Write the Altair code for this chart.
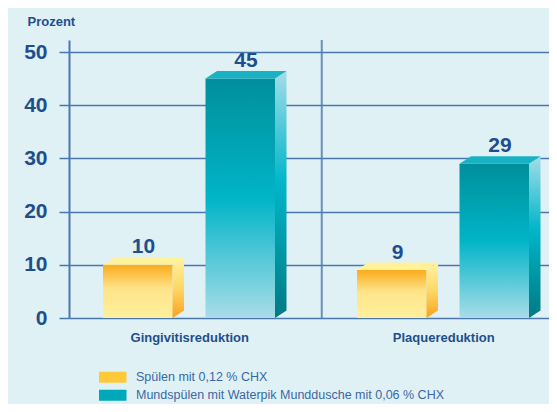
import altair as alt
import pandas as pd

# ---- data ----
categories = ["Gingivitisreduktion", "Plaquereduktion"]
series = ["Spülen mit 0,12 % CHX", "Mundspülen mit Waterpik Munddusche mit 0,06 % CHX"]
values_chx = [10, 9]
values_waterpik = [45, 29]
y_ticks = [0, 10, 20, 30, 40, 50]

# ---- layout constants ----
W, H = 480, 278
Y_MAX = 52.26
GROUP_START, GROUP_STEP, SERIES_STEP, BAR_W = 34, 254, 102.5, 69.5
DEPTH = 11.5
DY = 7.5 / (H / Y_MAX)
CAT_SHIFT = -5

BG = "#e0f1f6"
GRID = "#4a78ae"
TXT = "#1e4f8c"
FONT = "Liberation Sans Narrow, Liberation Sans, Arial"
LEG_COLORS = ["#fdc93a", "#00a9b9"]

front, side, top, labels = [], [], [], []
for i, cat in enumerate(categories):
    for j, vals in enumerate([values_chx, values_waterpik]):
        v = vals[i]
        L = GROUP_START + i * GROUP_STEP + j * SERIES_STEP
        R = L + BAR_W
        bid = f"{i}-{j}"
        front.append(dict(s=j, bid=bid, x0=L, x1=R, lo=0, hi=v))
        side += [dict(s=j, bid=bid, x=R, lo=0, hi=v),
                 dict(s=j, bid=bid, x=R + DEPTH, lo=DY, hi=v + DY)]
        top += [dict(s=j, bid=bid, x=L, lo=v, hi=v),
                dict(s=j, bid=bid, x=L + DEPTH, lo=v, hi=v + DY),
                dict(s=j, bid=bid, x=R, lo=v, hi=v + DY),
                dict(s=j, bid=bid, x=R + DEPTH, lo=v + DY, hi=v + DY)]
        labels.append(dict(s=j, x=(L + R) / 2 + DEPTH / 2, y=v + DY, t=str(v)))

front = pd.DataFrame(front)
side = pd.DataFrame(side)
top = pd.DataFrame(top)
labels = pd.DataFrame(labels)
cat_df = pd.DataFrame(dict(
    cat=categories,
    x=[GROUP_START + i * GROUP_STEP + (SERIES_STEP + BAR_W + DEPTH) / 2 + CAT_SHIFT
       for i in range(len(categories))]))
sep_df = pd.DataFrame(dict(x=[GROUP_START + GROUP_STEP - (GROUP_STEP - SERIES_STEP - BAR_W - DEPTH) / 2]))
leg_df = pd.DataFrame(dict(series=series, x=[0, 0], y=[0, 0]))

xs = alt.Scale(domain=[0, W])
ys = alt.Scale(domain=[0, Y_MAX])


def grad(stops):
    return alt.Gradient(gradient="linear", x1=0, x2=0, y1=0, y2=1,
                        stops=[alt.GradientStop(offset=o, color=c) for o, c in stops])


front_grad = [grad([(0, "#fbab1c"), (0.45, "#fde48a"), (1, "#fff09c")]),
              grad([(0, "#008f9c"), (0.5, "#00b5c7"), (1, "#a9dce8")])]
side_grad = [grad([(0, "#fff2a2"), (0.5, "#fdd866"), (1, "#f9a31c")]),
             grad([(0, "#a3dde8"), (0.45, "#00b6c9"), (1, "#007a84")])]
top_col = ["#fff29b", "#19b2c2"]

layers = []

# y axis with grid + legend carrier
axis_layer = alt.Chart(leg_df).mark_point(filled=True, size=0).encode(
    x=alt.X("x:Q", scale=xs, axis=None),
    y=alt.Y("y:Q", scale=ys, axis=alt.Axis(
        values=y_ticks, grid=True, gridColor=GRID, gridWidth=1.5, gridOpacity=1,
        domainColor=GRID, domainWidth=2, tickColor=GRID, tickSize=10, tickWidth=1.5,
        labelFont=FONT, labelFontSize=21, labelFontWeight="bold", labelColor=TXT,
        labelPadding=12, title="Prozent", titleAngle=0, titleAlign="left",
        titleBaseline="alphabetic", titleX=-42, titleY=-15, titleFont=FONT,
        titleFontSize=13, titleFontWeight="bold", titleColor=TXT)),
    color=alt.Color("series:N", scale=alt.Scale(domain=series, range=LEG_COLORS),
                    legend=alt.Legend(title=None, orient="none", legendX=37.5, legendY=331,
                                      symbolType="M-2.5,-1H2.5V1H-2.5Z", symbolSize=121,
                                      symbolOpacity=1, symbolStrokeWidth=0, labelOffset=17,
                                      rowPadding=5, padding=0, labelFont=FONT,
                                      labelFontSize=12.5, labelColor="#3a68a3",
                                      labelLimit=400)),
)
layers.append(axis_layer)

sep = alt.Chart(sep_df).mark_rule(color=GRID, strokeWidth=2, opacity=0.8).encode(
    x=alt.X("x:Q", scale=xs), y=alt.value(0), y2=alt.value(H))
layers.append(sep)

for j in range(2):
    layers.append(alt.Chart(front[front.s == j]).mark_bar(fill=front_grad[j]).encode(
        x=alt.X("x0:Q", scale=xs), x2="x1", y=alt.Y("lo:Q", scale=ys), y2="hi"))
    layers.append(alt.Chart(side[side.s == j]).mark_area(fill=side_grad[j]).encode(
        x=alt.X("x:Q", scale=xs), y=alt.Y("lo:Q", scale=ys), y2="hi", detail="bid:N"))
    layers.append(alt.Chart(top[top.s == j]).mark_area(fill=top_col[j]).encode(
        x=alt.X("x:Q", scale=xs), y=alt.Y("lo:Q", scale=ys), y2="hi", detail="bid:N"))

val_text = alt.Chart(labels).mark_text(font=FONT, fontSize=21, fontWeight="bold", color=TXT,
                                       baseline="alphabetic", dy=-4).encode(
    x=alt.X("x:Q", scale=xs), y=alt.Y("y:Q", scale=ys), text="t:N")
layers.append(val_text)

cat_text = alt.Chart(cat_df).mark_text(font=FONT, fontSize=13, fontWeight="bold", color=TXT,
                                       baseline="middle").encode(
    x=alt.X("x:Q", scale=xs), y=alt.value(H + 20), text="cat:N")
layers.append(cat_text)

chart = alt.layer(*layers).properties(
    width=W, height=H,
    autosize=alt.AutoSizeParams(type="none"),
    padding={"left": 61, "top": 32, "right": 0, "bottom": 86},
    background=BG,
).configure_view(stroke=None)

chart.save("out.html", embed_options={"renderer": "svg", "actions": False})
